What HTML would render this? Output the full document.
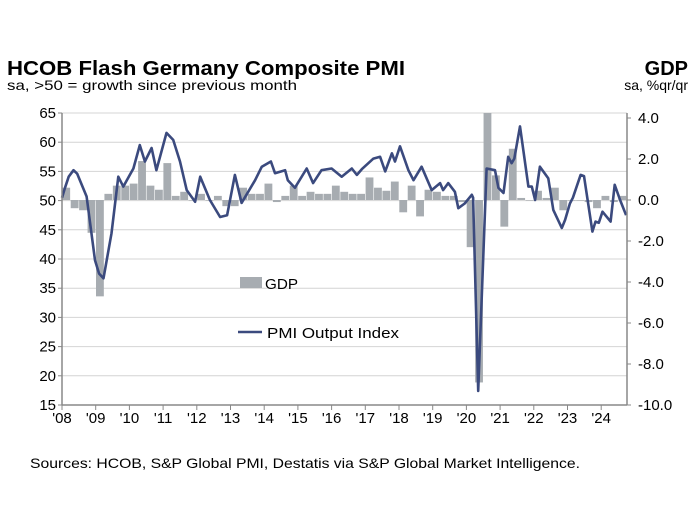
<!DOCTYPE html>
<html><head><meta charset="utf-8"><style>
body{margin:0;background:#fff;width:698px;height:514px;overflow:hidden;font-family:"Liberation Sans",Arial,sans-serif}
svg{display:block}
</style></head><body>
<svg id="chart" width="698" height="514" font-family="Liberation Sans, Arial, sans-serif">
<text x="7" y="75" font-size="20" font-weight="bold" fill="#000" textLength="398" lengthAdjust="spacingAndGlyphs">HCOB Flash Germany Composite PMI</text>
<text x="7" y="90" font-size="14" fill="#000" textLength="290" lengthAdjust="spacingAndGlyphs">sa, &gt;50 = growth since previous month</text>
<text x="688" y="75" font-size="20" font-weight="bold" text-anchor="end">GDP</text>
<text x="688" y="90" font-size="14" text-anchor="end">sa, %qr/qr</text>
<g id="grid"></g><g id="bars"></g><g id="line"></g><g id="axes"></g>
<g>
<rect x="240" y="277" width="22" height="11" fill="#a7acb1"/>
<text x="265" y="289" font-size="15" textLength="33" lengthAdjust="spacingAndGlyphs">GDP</text>
<line x1="238" y1="332" x2="262" y2="332" stroke="#3b4a7e" stroke-width="2.5"/>
<text x="267" y="338" font-size="15" textLength="132" lengthAdjust="spacingAndGlyphs">PMI Output Index</text>
</g>
<text x="30" y="468" font-size="14" textLength="550" lengthAdjust="spacingAndGlyphs">Sources: HCOB, S&amp;P Global PMI, Destatis via S&amp;P Global Market Intelligence.</text>
</svg>
<script>
const leftTicks=[65,60,55,50,45,40,35,30,25,20,15];
const rightTicks=["4.0","2.0","0.0","-2.0","-4.0","-6.0","-8.0","-10.0"];
const yearLabels=["'08","'09","'10","'11","'12","'13","'14","'15","'16","'17","'18","'19","'20","'21","'22","'23","'24"];
const gdpValues=[0.6,-0.4,-0.5,-1.6,-4.7,0.3,0.7,0.7,0.8,1.9,0.7,0.5,1.8,0.2,0.4,0.0,0.3,0.0,0.2,-0.3,-0.3,0.6,0.3,0.3,0.8,-0.1,0.2,0.7,0.2,0.4,0.3,0.3,0.7,0.4,0.3,0.3,1.1,0.6,0.45,0.9,-0.6,0.7,-0.8,0.5,0.4,0.2,0.2,-0.1,-2.3,-8.9,8.7,1.2,-1.3,2.5,0.1,0.0,0.45,0.1,0.6,-0.5,0.0,0.0,-0.1,-0.4,0.2,-0.1,0.2];
const pmiDates=[2008.0,2008.09,2008.2,2008.34,2008.45,2008.73,2008.98,2009.1,2009.23,2009.47,2009.67,2009.82,2010.12,2010.31,2010.46,2010.66,2010.8,2011.1,2011.3,2011.5,2011.7,2011.95,2012.1,2012.39,2012.69,2012.9,2013.13,2013.33,2013.73,2013.93,2014.2,2014.32,2014.62,2014.7,2014.91,2015.26,2015.45,2015.7,2016.0,2016.3,2016.6,2016.75,2016.9,2017.24,2017.44,2017.59,2017.79,2017.88,2018.03,2018.28,2018.43,2018.67,2018.97,2019.22,2019.31,2019.46,2019.66,2019.76,2019.95,2020.16,2020.2,2020.35,2020.6,2020.85,2020.95,2021.1,2021.24,2021.34,2021.42,2021.59,2021.84,2021.94,2022.04,2022.18,2022.43,2022.58,2022.83,2022.93,2023.07,2023.16,2023.39,2023.49,2023.74,2023.83,2023.93,2024.04,2024.28,2024.4,2024.56,2024.74];
const pmiValues=[50.5,52.2,54.1,55.2,54.6,50.7,39.8,37.5,36.7,44.4,54.1,52.4,55.5,59.5,56.7,59.0,55.2,61.6,60.4,56.7,51.8,49.8,54.1,50.1,47.2,47.5,54.4,49.6,53.5,55.8,56.7,54.7,55.2,53.5,52.2,55.5,53.0,55.2,55.5,54.1,55.5,54.4,55.4,57.2,57.5,55.0,58.1,56.7,59.3,55.2,53.5,55.8,51.8,53.0,51.8,53.0,51.5,48.7,49.5,51.0,50.5,17.4,55.5,55.2,52.2,51.3,57.5,56.4,57.2,62.7,52.4,52.4,50.1,55.8,53.8,48.4,45.3,46.7,49.5,50.5,54.4,54.2,44.7,46.4,46.2,48.1,46.4,52.7,50.1,47.5];
const X0=62,X1=627,PXY=33.7,YT=113,YB=405;
const xs=t=>X0+(t-2008)*PXY;
const yl=v=>YT+(65-v)*(YB-YT)/50;
const yr=v=>200-v*20.5;
const NS="http://www.w3.org/2000/svg";
function mk(tag,parent,attrs){const e=document.createElementNS(NS,tag);for(const k in attrs)e.setAttribute(k,attrs[k]);document.getElementById(parent).appendChild(e);return e;}
leftTicks.forEach(v=>{
 if(v!==15){const g=mk('line','grid',{x1:X0,x2:X1,y1:yl(v),y2:yl(v),stroke:'#d4d4d4','stroke-width':1});
 
 }
 const t=mk('text','axes',{x:56,y:yl(v)+5,'font-size':15,'text-anchor':'end'});t.textContent=v;
 
 
 const tk=mk('line','axes',{x1:X0-4,x2:X0,y1:yl(v),y2:yl(v),stroke:'#888'});
 
 
});
rightTicks.forEach(s=>{const v=parseFloat(s);
 const t=mk('text','axes',{x:638,y:yr(v)+5,'font-size':15});t.textContent=s;
 
 
 const tk=mk('line','axes',{x1:X1,x2:X1+4,y1:yr(v),y2:yr(v),stroke:'#888'});
 
 
});
gdpValues.forEach((v,i)=>{const t=2008+i/4;let top=Math.max(yr(Math.max(v,0)),YT),bot=yr(Math.min(v,0));
 const r=mk('rect','bars',{x:xs(t)+0.3,y:top,width:PXY/4-0.6,height:Math.max(bot-top,0.5),fill:'#a7acb1'});
 
 
});
const p=mk('polyline','line',{points:pmiDates.map((d,i)=>xs(d).toFixed(1)+','+yl(pmiValues[i]).toFixed(1)).join(' '),fill:'none',stroke:'#3b4a7e','stroke-width':2.6,'stroke-linejoin':'round'});


const la=mk('line','axes',{x1:X0,x2:X0,y1:YT,y2:YB,stroke:'#888','stroke-width':1.5});


const ra=mk('line','axes',{x1:X1,x2:X1,y1:YT,y2:YB,stroke:'#888','stroke-width':1.5});


const xa=mk('line','axes',{x1:X0,x2:X1,y1:YB,y2:YB,stroke:'#888','stroke-width':1.5});


yearLabels.forEach((s,i)=>{const x=xs(2008+i);
 const tk=mk('line','axes',{x1:x,x2:x,y1:YB,y2:YB+5,stroke:'#888'});
 
 
 const t=mk('text','axes',{x:x,y:YB+18,'font-size':15,'text-anchor':'middle'});t.textContent=s;
 
 
});
</script>
</body></html>
